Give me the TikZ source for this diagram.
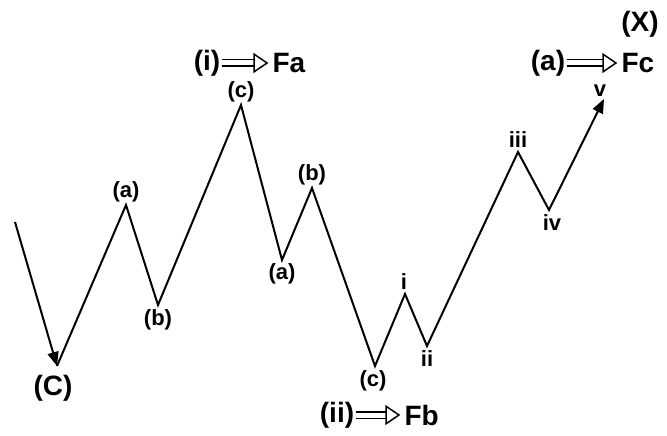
\documentclass[tikz,border=0pt]{standalone}
\usepackage{fontspec}
\setsansfont{Liberation Sans}
\usetikzlibrary{positioning, arrows.meta}
\tikzset{
  wave/.style={line width=2pt, line join=miter},
  tip/.style={-{Triangle[length=14pt,width=11pt]}},
  lbl/.style={font=\sffamily\bfseries\fontsize{22}{22}\selectfont, inner sep=0pt},
  biglbl/.style={font=\sffamily\bfseries\fontsize{28}{28}\selectfont, inner sep=0pt},
  hollow/.style={double, double distance=5pt, line width=1.5pt, shorten >=4pt, shorten <=2pt,
    -{Triangle[open,length=15pt,width=20pt]}}
}

\begin{document}
\begin{tikzpicture}[x=1pt, y=-1pt]
\useasboundingbox (0,0) rectangle (667,436);

% Puntos de la onda
\coordinate (S)  at (15,222);
\coordinate (C)  at (57,366);
\coordinate (a1) at (126,205);
\coordinate (b1) at (158,305);
\coordinate (c1) at (241,105);
\coordinate (a2) at (282,260);
\coordinate (b2) at (312,188);
\coordinate (c2) at (375,366);
\coordinate (w1) at (405,294);
\coordinate (w2) at (427,346);
\coordinate (w3) at (518,152);
\coordinate (w4) at (549,210);
\coordinate (w5) at (604,99);

% Onda
\draw[wave, tip] (S) -- (C);
\draw[wave, tip] (C) -- (a1) -- (b1) -- (c1) -- (a2) -- (b2) -- (c2)
  -- (w1) -- (w2) -- (w3) -- (w4) -- (w5);

% Etiquetas de la onda
\node[lbl, above=3pt of a1] (la1) {(a)};
\node[lbl, below=4pt of b1] (lb1) {(b)};
\node[lbl, above=3pt of c1] (lc1) {(c)};
\node[lbl, below=3pt of a2] (la2) {(a)};
\node[lbl, above=3pt of b2] (lb2) {(b)};
\node[lbl, below=4pt of c2, xshift=-2pt] (lc2) {(c)};
\node[lbl, above=4pt of w1, xshift=-1pt] (li) {i};
\node[lbl, below=4pt of w2] (lii) {ii};
\node[lbl, above=4pt of w3] (liii) {iii};
\node[lbl, below=4pt of w4, xshift=3pt] (liv) {iv};
\node[lbl, above=2pt of w5, xshift=-4pt] (lv) {v};
\node[biglbl, below=9pt of C, xshift=-4pt] (lC) {(C)};

% Grados superiores
\node[biglbl] (gi) at (207,63) {(i)};
\node[biglbl, right=52pt of gi] (fa) {Fa};
\draw[hollow] (gi) -- (fa);

\node[biglbl] (gii) at (337,415) {(ii)};
\node[biglbl, right=50pt of gii] (fb) {Fb};
\draw[hollow] (gii) -- (fb);

\node[biglbl] (ga) at (548,63) {(a)};
\node[biglbl, right=56pt of ga] (fc) {Fc};
\draw[hollow] (ga) -- (fc);

\node[biglbl] (X) at (640,24) {(X)};

\end{tikzpicture}
\end{document}
